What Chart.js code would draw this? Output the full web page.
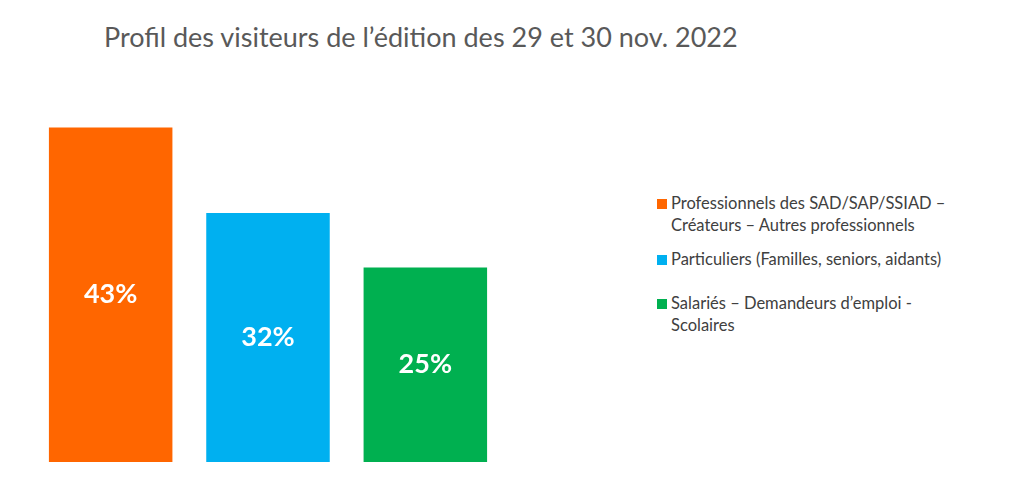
<!DOCTYPE html>
<html><head><meta charset="utf-8">
<script src="https://cdn.jsdelivr.net/npm/chart.js@4"></script>
<style>
body{margin:0;width:1022px;height:502px;background:#fff;font-family:Lato,"Open Sans",sans-serif;position:relative;overflow:hidden}
#title{position:absolute;left:104px;top:20px;font-size:27px;color:#595959;white-space:nowrap}
#wrap{position:absolute;left:32px;top:112px;width:472px;height:350px}
#legend{position:absolute;left:657px;top:192px;font-size:16.5px;color:#404040;line-height:22px}
.it{position:relative;padding-left:14px;margin-bottom:12px}
.sw{position:absolute;left:0;top:7px;width:10px;height:10px}
</style></head><body>
<div id="title">Profil des visiteurs de l’édition des 29 et 30 nov. 2022</div>
<div id="wrap"><canvas id="c"></canvas></div>
<div id="legend"></div>
<script>
// data
var categories = ['Professionnels des SAD/SAP/SSIAD – Créateurs – Autres professionnels',
                  'Particuliers (Familles, seniors, aidants)',
                  'Salariés – Demandeurs d’emploi - Scolaires'];
var legendLines = [['Professionnels des SAD/SAP/SSIAD –','Créateurs – Autres professionnels'],
                   ['Particuliers (Familles, seniors, aidants)'],
                   ['Salariés – Demandeurs d’emploi -','Scolaires']];
var values = [43, 32, 25];
var colors = ['#FF6600', '#00B0F0', '#00B050'];

var leg = document.getElementById('legend');
legendLines.forEach(function (l, i) {
    var d = document.createElement('div');
    d.className = 'it';
    if (i === 1) d.style.marginBottom = '22px';
    d.innerHTML = '<span class="sw" style="background:' + colors[i] + '"></span>' + l.join('<br>');
    leg.appendChild(d);
});

var valueLabels = {
    id: 'valueLabels',
    afterDatasetsDraw: function (chart) {
        var ctx = chart.ctx;
        ctx.save();
        ctx.fillStyle = '#fff';
        ctx.font = 'bold 27px Lato, "Open Sans", sans-serif';
        ctx.textAlign = 'center';
        ctx.textBaseline = 'middle';
        chart.getDatasetMeta(0).data.forEach(function (bar, i) {
            ctx.fillText(values[i] + '%', bar.x, (bar.y + bar.base) / 2);
        });
        ctx.restore();
    }
};

new Chart(document.getElementById('c'), {
    type: 'bar',
    data: {
        labels: categories,
        datasets: [{ data: values, backgroundColor: colors, barPercentage: 0.785, categoryPercentage: 1 }]
    },
    options: {
        responsive: true, maintainAspectRatio: false, animation: false,
        layout: { padding: 0 },
        plugins: { legend: { display: false }, tooltip: { enabled: false } },
        scales: {
            x: { display: false },
            y: { display: false, min: 0, max: 45 }
        }
    },
    plugins: [valueLabels]
});
</script>
</body></html>
